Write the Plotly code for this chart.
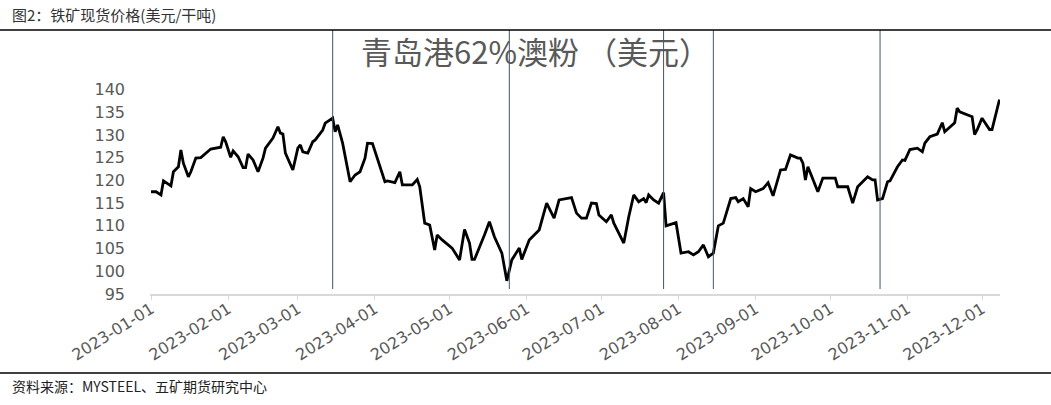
import plotly.graph_objects as go

# ---- data ----
dates = [
    "2023-01-01", "2023-01-03", "2023-01-05", "2023-01-06", "2023-01-09", "2023-01-10",
    "2023-01-12", "2023-01-13", "2023-01-14", "2023-01-16", "2023-01-17", "2023-01-19",
    "2023-01-21", "2023-01-25", "2023-01-29", "2023-01-30", "2023-01-31", "2023-02-02",
    "2023-02-03", "2023-02-05", "2023-02-07", "2023-02-08", "2023-02-09", "2023-02-11",
    "2023-02-13", "2023-02-15", "2023-02-16", "2023-02-19", "2023-02-21", "2023-02-22",
    "2023-02-23", "2023-02-24", "2023-02-27", "2023-03-01", "2023-03-02", "2023-03-03",
    "2023-03-05", "2023-03-07", "2023-03-08", "2023-03-11", "2023-03-12", "2023-03-15",
    "2023-03-16", "2023-03-17", "2023-03-19", "2023-03-22", "2023-03-24", "2023-03-26",
    "2023-03-28", "2023-03-29", "2023-03-31", "2023-04-05", "2023-04-06", "2023-04-09",
    "2023-04-11", "2023-04-12", "2023-04-16", "2023-04-18", "2023-04-19", "2023-04-21",
    "2023-04-23", "2023-04-25", "2023-04-26", "2023-04-28", "2023-05-02", "2023-05-05",
    "2023-05-07", "2023-05-09", "2023-05-10", "2023-05-11", "2023-05-15", "2023-05-17",
    "2023-05-19", "2023-05-22", "2023-05-24", "2023-05-26", "2023-05-29", "2023-05-30",
    "2023-06-02", "2023-06-06", "2023-06-09", "2023-06-12", "2023-06-14", "2023-06-18",
    "2023-06-19", "2023-06-21", "2023-06-23", "2023-06-25", "2023-06-27", "2023-06-29",
    "2023-06-30", "2023-07-03", "2023-07-05", "2023-07-06", "2023-07-10", "2023-07-12",
    "2023-07-14", "2023-07-16", "2023-07-18", "2023-07-19", "2023-07-20", "2023-07-22",
    "2023-07-24", "2023-07-26", "2023-07-27", "2023-07-31", "2023-08-02", "2023-08-05",
    "2023-08-07", "2023-08-09", "2023-08-11", "2023-08-13", "2023-08-15", "2023-08-17",
    "2023-08-19", "2023-08-22", "2023-08-24", "2023-08-25", "2023-08-27", "2023-08-29",
    "2023-08-30", "2023-09-01", "2023-09-04", "2023-09-06", "2023-09-08", "2023-09-11",
    "2023-09-13", "2023-09-15", "2023-09-18", "2023-09-19", "2023-09-20", "2023-09-21",
    "2023-09-22", "2023-09-26", "2023-09-28", "2023-10-03", "2023-10-04", "2023-10-08",
    "2023-10-10", "2023-10-12", "2023-10-16", "2023-10-18", "2023-10-19", "2023-10-20",
    "2023-10-22", "2023-10-24", "2023-10-25", "2023-10-28", "2023-10-30", "2023-10-31",
    "2023-11-02", "2023-11-05", "2023-11-07", "2023-11-08", "2023-11-10", "2023-11-13",
    "2023-11-15", "2023-11-16", "2023-11-20", "2023-11-21", "2023-11-22", "2023-11-27",
    "2023-11-28", "2023-11-29", "2023-12-01", "2023-12-04", "2023-12-05", "2023-12-08",
]
prices = [
    117.5, 117.5, 116.8, 119.9, 118.8, 121.9,
    123.0, 126.7, 123.8, 120.8, 121.9, 124.9,
    125.0, 126.9, 127.3, 129.6, 128.5, 125.1,
    126.5, 125.2, 122.8, 122.8, 125.8, 124.5,
    121.9, 124.9, 127.1, 129.3, 131.8, 130.4,
    130.2, 126.0, 122.3, 127.1, 127.8, 126.3,
    126.0, 128.5, 128.9, 131.1, 132.6, 133.7,
    130.7, 132.2, 128.2, 119.7, 121.2, 121.9,
    124.9, 128.2, 128.1, 119.7, 119.9, 119.5,
    121.9, 119.0, 119.0, 120.2, 118.6, 110.6,
    110.2, 104.7, 108.0, 106.9, 105.1, 102.5,
    109.2, 106.2, 102.6, 102.6, 108.0, 110.9,
    107.6, 104.0, 97.9, 102.5, 105.1, 102.6,
    106.9, 109.1, 115.0, 111.7, 115.7, 116.2,
    116.2, 112.8, 111.7, 111.7, 115.0, 114.9,
    112.4, 110.9, 112.4, 110.6, 106.2, 112.0,
    116.8, 115.3, 116.0, 115.1, 116.8, 115.7,
    115.0, 117.3, 110.0, 110.7, 104.0, 104.3,
    103.6, 104.3, 105.8, 103.2, 104.0, 110.0,
    110.6, 116.0, 116.2, 115.3, 116.0, 114.2,
    118.2, 117.5, 118.2, 119.5, 116.6, 122.3,
    122.4, 125.6, 124.9, 124.9, 123.8, 120.1,
    123.0, 117.5, 120.5, 120.5, 118.6, 118.6,
    115.0, 118.6, 120.8, 120.1, 120.1, 115.7,
    116.0, 119.7, 119.9, 123.0, 124.5, 124.4,
    126.8, 127.1, 126.3, 128.2, 129.6, 130.2,
    132.7, 130.7, 132.7, 135.9, 135.1, 134.0,
    130.1, 131.1, 133.7, 131.2, 131.2, 137.8,
]
marker_dates = ["2023-03-15", "2023-05-25", "2023-07-26", "2023-08-15", "2023-10-21"]
y_ticks = [95, 100, 105, 110, 115, 120, 125, 130, 135, 140]
x_ticks = ["2023-01-01", "2023-02-01", "2023-03-01", "2023-04-01", "2023-05-01",
           "2023-06-01", "2023-07-01", "2023-08-01", "2023-09-01", "2023-10-01",
           "2023-11-01", "2023-12-01"]

header = "图2：铁矿现货价格(美元/干吨)"
chart_title = "青岛港62%澳粉 （美元）"
source = "资料来源：MYSTEEL、五矿期货研究中心"

# ---- layout geometry (pixels) ----
W, H = 1051, 405
L, R, T, B = 150, 51, 30, 111
plot_w = W - L - R
plot_h = H - T - B
Y_MIN, Y_TOP = 95, 153.1

fig = go.Figure()
fig.add_trace(go.Scatter(
    x=dates, y=prices, mode="lines",
    line=dict(color="#000000", width=2.8),
    showlegend=False, hoverinfo="x+y",
))

shapes = []
for d in marker_dates:
    shapes.append(dict(type="line", xref="x", yref="y", x0=d, x1=d,
                       y0=96.1, y1=Y_TOP,
                       line=dict(color="#44546A", width=1)))
# header rule and footer rule
shapes.append(dict(type="line", xref="paper", yref="paper",
                   x0=-L / plot_w, x1=(W - L) / plot_w, y0=1, y1=1,
                   line=dict(color="#000000", width=1.3)))
yb = (H - B - 373) / plot_h
shapes.append(dict(type="line", xref="paper", yref="paper",
                   x0=-L / plot_w, x1=(W - L) / plot_w, y0=yb, y1=yb,
                   line=dict(color="#000000", width=1.3)))

cjk = "Noto Sans CJK SC"
annotations = [
    dict(text=header, xref="paper", yref="paper",
         x=(10 - L) / plot_w, y=(H - B - 15) / plot_h,
         xanchor="left", yanchor="middle", showarrow=False,
         font=dict(family=cjk, size=15, color="#333333")),
    dict(text=chart_title, xref="paper", yref="paper",
         x=(535 - L) / plot_w, y=(H - B - 50) / plot_h,
         xanchor="center", yanchor="middle", showarrow=False,
         font=dict(family=cjk, size=31, color="#595959")),
    dict(text=source, xref="paper", yref="paper",
         x=(10 - L) / plot_w, y=(H - B - 386) / plot_h,
         xanchor="left", yanchor="middle", showarrow=False,
         font=dict(family=cjk, size=14, color="#222222")),
]

fig.update_layout(
    width=W, height=H,
    margin=dict(l=L, r=R, t=T, b=B, pad=0),
    paper_bgcolor="white", plot_bgcolor="white",
    shapes=shapes, annotations=annotations,
    xaxis=dict(
        type="date",
        range=["2022-12-31 14:00", "2023-12-08 05:00"],
        tickvals=x_ticks, ticktext=x_ticks,
        tickangle=-32,
        tickfont=dict(family="DejaVu Sans", size=16, color="#595959"),
        showgrid=False, zeroline=False,
        showline=True, linecolor="#D9D9D9", linewidth=1.5,
        ticks="outside", ticklen=4, tickcolor="#D9D9D9",
        ticklabelstandoff=-6,
    ),
    yaxis=dict(
        range=[Y_MIN, Y_TOP],
        tickvals=y_ticks,
        tickfont=dict(family="DejaVu Sans", size=16, color="#595959"),
        showgrid=False, zeroline=False, showline=False,
        ticks="", ticklabelstandoff=24,
    ),
)

fig.write_html("out.html",
               config={"displayModeBar": False},
               post_script="document.body.style.margin='0';document.body.style.overflow='hidden';")
